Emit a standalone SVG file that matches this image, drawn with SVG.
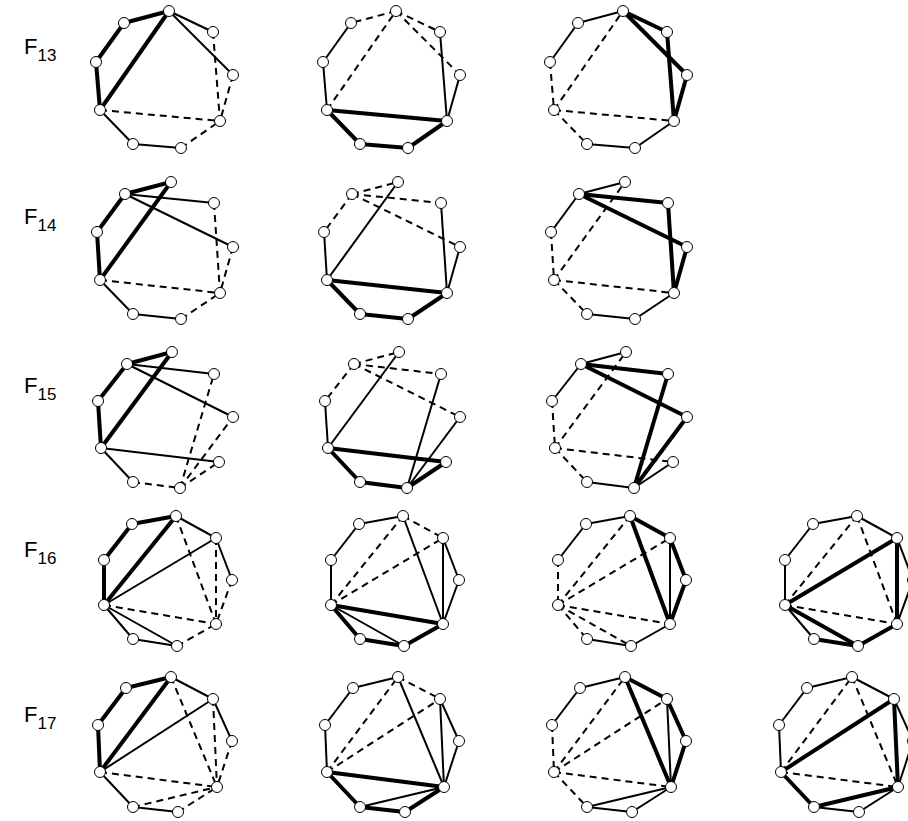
<svg xmlns="http://www.w3.org/2000/svg" width="908" height="821" viewBox="0 0 908 821">
<style>
line{stroke:#000;stroke-linecap:butt}
.t{stroke-width:4}
.s{stroke-width:2}
.d{stroke-width:2;stroke-dasharray:7 5}
circle{fill:#fff;stroke:#000;stroke-width:1}
text{font-family:"Liberation Sans",Arial,sans-serif;fill:#000}
.lbl{font-size:22px}
.sub{font-size:17px}
</style>
<rect width="908" height="821" fill="#fff"/>
<g id="labels">
<text class="lbl" x="24" y="54">F<tspan class="sub" dy="7">13</tspan></text>
<text class="lbl" x="24" y="224">F<tspan class="sub" dy="7">14</tspan></text>
<text class="lbl" x="24" y="393">F<tspan class="sub" dy="7">15</tspan></text>
<text class="lbl" x="24" y="557">F<tspan class="sub" dy="7">16</tspan></text>
<text class="lbl" x="24" y="722">F<tspan class="sub" dy="7">17</tspan></text>
</g>

<!-- ROW 1 -->
<g id="r1c1">
<g id="r1c1-connectors">
<line class="t" x1="169" y1="11" x2="124" y2="23"/>
<line class="t" x1="124" y1="23" x2="96" y2="62"/>
<line class="t" x1="96" y1="62" x2="100" y2="110"/>
<line class="t" x1="100" y1="110" x2="169" y2="11"/>
<line class="s" x1="169" y1="11" x2="213" y2="32"/>
<line class="s" x1="169" y1="11" x2="233" y2="75"/>
<line class="d" x1="213" y1="32" x2="220" y2="121"/>
<line class="d" x1="233" y1="75" x2="220" y2="121"/>
<line class="d" x1="100" y1="110" x2="220" y2="121"/>
<line class="s" x1="100" y1="110" x2="133" y2="144"/>
<line class="s" x1="133" y1="144" x2="181" y2="148"/>
<line class="d" x1="181" y1="148" x2="220" y2="121"/>
</g>
<g id="r1c1-A"><circle cx="169" cy="11" r="5.5"/></g>
<g id="r1c1-B"><circle cx="124" cy="23" r="5.5"/></g>
<g id="r1c1-C"><circle cx="96" cy="62" r="5.5"/></g>
<g id="r1c1-D"><circle cx="100" cy="110" r="5.5"/></g>
<g id="r1c1-E"><circle cx="133" cy="144" r="5.5"/></g>
<g id="r1c1-F"><circle cx="181" cy="148" r="5.5"/></g>
<g id="r1c1-G"><circle cx="220" cy="121" r="5.5"/></g>
<g id="r1c1-H"><circle cx="233" cy="75" r="5.5"/></g>
<g id="r1c1-I"><circle cx="213" cy="32" r="5.5"/></g>
</g>

<g id="r1c2" transform="translate(227,0)">
<g id="r1c2-connectors">
<line class="d" x1="169" y1="11" x2="124" y2="23"/>
<line class="s" x1="124" y1="23" x2="96" y2="62"/>
<line class="s" x1="96" y1="62" x2="100" y2="110"/>
<line class="d" x1="100" y1="110" x2="169" y2="11"/>
<line class="d" x1="169" y1="11" x2="213" y2="32"/>
<line class="d" x1="169" y1="11" x2="233" y2="75"/>
<line class="s" x1="213" y1="32" x2="220" y2="121"/>
<line class="s" x1="233" y1="75" x2="220" y2="121"/>
<line class="t" x1="100" y1="110" x2="220" y2="121"/>
<line class="t" x1="100" y1="110" x2="133" y2="144"/>
<line class="t" x1="133" y1="144" x2="181" y2="148"/>
<line class="t" x1="181" y1="148" x2="220" y2="121"/>
</g>
<g id="r1c2-A"><circle cx="169" cy="11" r="5.5"/></g>
<g id="r1c2-B"><circle cx="124" cy="23" r="5.5"/></g>
<g id="r1c2-C"><circle cx="96" cy="62" r="5.5"/></g>
<g id="r1c2-D"><circle cx="100" cy="110" r="5.5"/></g>
<g id="r1c2-E"><circle cx="133" cy="144" r="5.5"/></g>
<g id="r1c2-F"><circle cx="181" cy="148" r="5.5"/></g>
<g id="r1c2-G"><circle cx="220" cy="121" r="5.5"/></g>
<g id="r1c2-H"><circle cx="233" cy="75" r="5.5"/></g>
<g id="r1c2-I"><circle cx="213" cy="32" r="5.5"/></g>
</g>

<g id="r1c3" transform="translate(454,0)">
<g id="r1c3-connectors">
<line class="s" x1="169" y1="11" x2="124" y2="23"/>
<line class="s" x1="124" y1="23" x2="96" y2="62"/>
<line class="d" x1="96" y1="62" x2="100" y2="110"/>
<line class="d" x1="100" y1="110" x2="169" y2="11"/>
<line class="t" x1="169" y1="11" x2="213" y2="32"/>
<line class="t" x1="169" y1="11" x2="233" y2="75"/>
<line class="t" x1="213" y1="32" x2="220" y2="121"/>
<line class="t" x1="233" y1="75" x2="220" y2="121"/>
<line class="d" x1="100" y1="110" x2="220" y2="121"/>
<line class="d" x1="100" y1="110" x2="133" y2="144"/>
<line class="s" x1="133" y1="144" x2="181" y2="148"/>
<line class="s" x1="181" y1="148" x2="220" y2="121"/>
</g>
<g id="r1c3-A"><circle cx="169" cy="11" r="5.5"/></g>
<g id="r1c3-B"><circle cx="124" cy="23" r="5.5"/></g>
<g id="r1c3-C"><circle cx="96" cy="62" r="5.5"/></g>
<g id="r1c3-D"><circle cx="100" cy="110" r="5.5"/></g>
<g id="r1c3-E"><circle cx="133" cy="144" r="5.5"/></g>
<g id="r1c3-F"><circle cx="181" cy="148" r="5.5"/></g>
<g id="r1c3-G"><circle cx="220" cy="121" r="5.5"/></g>
<g id="r1c3-H"><circle cx="233" cy="75" r="5.5"/></g>
<g id="r1c3-I"><circle cx="213" cy="32" r="5.5"/></g>
</g>

<!-- ROW 2 -->
<g id="r2c1">
<g id="r2c1-connectors">
<line class="t" x1="125" y1="194" x2="171" y2="182"/>
<line class="t" x1="125" y1="194" x2="97" y2="232"/>
<line class="t" x1="97" y1="232" x2="100" y2="280"/>
<line class="t" x1="100" y1="280" x2="171" y2="182"/>
<line class="s" x1="125" y1="194" x2="214" y2="203"/>
<line class="s" x1="125" y1="194" x2="233" y2="247"/>
<line class="d" x1="214" y1="203" x2="220" y2="293"/>
<line class="d" x1="233" y1="247" x2="220" y2="293"/>
<line class="d" x1="100" y1="280" x2="220" y2="293"/>
<line class="s" x1="100" y1="280" x2="133" y2="314"/>
<line class="s" x1="133" y1="314" x2="181" y2="319"/>
<line class="d" x1="181" y1="319" x2="220" y2="293"/>
</g>
<g id="r2c1-A"><circle cx="171" cy="182" r="5.5"/></g>
<g id="r2c1-B"><circle cx="125" cy="194" r="5.5"/></g>
<g id="r2c1-C"><circle cx="97" cy="232" r="5.5"/></g>
<g id="r2c1-D"><circle cx="100" cy="280" r="5.5"/></g>
<g id="r2c1-E"><circle cx="133" cy="314" r="5.5"/></g>
<g id="r2c1-F"><circle cx="181" cy="319" r="5.5"/></g>
<g id="r2c1-G"><circle cx="220" cy="293" r="5.5"/></g>
<g id="r2c1-H"><circle cx="233" cy="247" r="5.5"/></g>
<g id="r2c1-I"><circle cx="214" cy="203" r="5.5"/></g>
</g>

<g id="r2c2" transform="translate(227,0)">
<g id="r2c2-connectors">
<line class="d" x1="125" y1="194" x2="171" y2="182"/>
<line class="d" x1="125" y1="194" x2="97" y2="232"/>
<line class="s" x1="97" y1="232" x2="100" y2="280"/>
<line class="s" x1="100" y1="280" x2="171" y2="182"/>
<line class="d" x1="125" y1="194" x2="214" y2="203"/>
<line class="d" x1="125" y1="194" x2="233" y2="247"/>
<line class="s" x1="214" y1="203" x2="220" y2="293"/>
<line class="s" x1="233" y1="247" x2="220" y2="293"/>
<line class="t" x1="100" y1="280" x2="220" y2="293"/>
<line class="t" x1="100" y1="280" x2="133" y2="314"/>
<line class="t" x1="133" y1="314" x2="181" y2="319"/>
<line class="t" x1="181" y1="319" x2="220" y2="293"/>
</g>
<g id="r2c2-A"><circle cx="171" cy="182" r="5.5"/></g>
<g id="r2c2-B"><circle cx="125" cy="194" r="5.5"/></g>
<g id="r2c2-C"><circle cx="97" cy="232" r="5.5"/></g>
<g id="r2c2-D"><circle cx="100" cy="280" r="5.5"/></g>
<g id="r2c2-E"><circle cx="133" cy="314" r="5.5"/></g>
<g id="r2c2-F"><circle cx="181" cy="319" r="5.5"/></g>
<g id="r2c2-G"><circle cx="220" cy="293" r="5.5"/></g>
<g id="r2c2-H"><circle cx="233" cy="247" r="5.5"/></g>
<g id="r2c2-I"><circle cx="214" cy="203" r="5.5"/></g>
</g>

<g id="r2c3" transform="translate(454,0)">
<g id="r2c3-connectors">
<line class="s" x1="125" y1="194" x2="171" y2="182"/>
<line class="s" x1="125" y1="194" x2="97" y2="232"/>
<line class="d" x1="97" y1="232" x2="100" y2="280"/>
<line class="d" x1="100" y1="280" x2="171" y2="182"/>
<line class="t" x1="125" y1="194" x2="214" y2="203"/>
<line class="t" x1="125" y1="194" x2="233" y2="247"/>
<line class="t" x1="214" y1="203" x2="220" y2="293"/>
<line class="t" x1="233" y1="247" x2="220" y2="293"/>
<line class="d" x1="100" y1="280" x2="220" y2="293"/>
<line class="d" x1="100" y1="280" x2="133" y2="314"/>
<line class="s" x1="133" y1="314" x2="181" y2="319"/>
<line class="s" x1="181" y1="319" x2="220" y2="293"/>
</g>
<g id="r2c3-A"><circle cx="171" cy="182" r="5.5"/></g>
<g id="r2c3-B"><circle cx="125" cy="194" r="5.5"/></g>
<g id="r2c3-C"><circle cx="97" cy="232" r="5.5"/></g>
<g id="r2c3-D"><circle cx="100" cy="280" r="5.5"/></g>
<g id="r2c3-E"><circle cx="133" cy="314" r="5.5"/></g>
<g id="r2c3-F"><circle cx="181" cy="319" r="5.5"/></g>
<g id="r2c3-G"><circle cx="220" cy="293" r="5.5"/></g>
<g id="r2c3-H"><circle cx="233" cy="247" r="5.5"/></g>
<g id="r2c3-I"><circle cx="214" cy="203" r="5.5"/></g>
</g>

<!-- ROW 3 -->
<g id="r3c1">
<g id="r3c1-connectors">
<line class="t" x1="127" y1="364" x2="172" y2="352"/>
<line class="t" x1="127" y1="364" x2="98" y2="401"/>
<line class="t" x1="98" y1="401" x2="101" y2="448"/>
<line class="t" x1="101" y1="448" x2="172" y2="352"/>
<line class="s" x1="127" y1="364" x2="214" y2="374"/>
<line class="s" x1="127" y1="364" x2="233" y2="417"/>
<line class="s" x1="101" y1="448" x2="219" y2="462"/>
<line class="s" x1="101" y1="448" x2="133" y2="482"/>
<line class="d" x1="133" y1="482" x2="180" y2="488"/>
<line class="d" x1="180" y1="488" x2="214" y2="374"/>
<line class="d" x1="180" y1="488" x2="233" y2="417"/>
<line class="d" x1="180" y1="488" x2="219" y2="462"/>
</g>
<g id="r3c1-A"><circle cx="172" cy="352" r="5.5"/></g>
<g id="r3c1-B"><circle cx="127" cy="364" r="5.5"/></g>
<g id="r3c1-C"><circle cx="98" cy="401" r="5.5"/></g>
<g id="r3c1-D"><circle cx="101" cy="448" r="5.5"/></g>
<g id="r3c1-E"><circle cx="133" cy="482" r="5.5"/></g>
<g id="r3c1-F"><circle cx="180" cy="488" r="5.5"/></g>
<g id="r3c1-G"><circle cx="219" cy="462" r="5.5"/></g>
<g id="r3c1-H"><circle cx="233" cy="417" r="5.5"/></g>
<g id="r3c1-I"><circle cx="214" cy="374" r="5.5"/></g>
</g>

<g id="r3c2" transform="translate(227,0)">
<g id="r3c2-connectors">
<line class="d" x1="127" y1="364" x2="172" y2="352"/>
<line class="d" x1="127" y1="364" x2="98" y2="401"/>
<line class="s" x1="98" y1="401" x2="101" y2="448"/>
<line class="s" x1="101" y1="448" x2="172" y2="352"/>
<line class="d" x1="127" y1="364" x2="214" y2="374"/>
<line class="d" x1="127" y1="364" x2="233" y2="417"/>
<line class="t" x1="101" y1="448" x2="219" y2="462"/>
<line class="t" x1="101" y1="448" x2="133" y2="482"/>
<line class="t" x1="133" y1="482" x2="180" y2="488"/>
<line class="t" x1="180" y1="488" x2="219" y2="462"/>
<line class="s" x1="180" y1="488" x2="214" y2="374"/>
<line class="s" x1="180" y1="488" x2="233" y2="417"/>
</g>
<g id="r3c2-A"><circle cx="172" cy="352" r="5.5"/></g>
<g id="r3c2-B"><circle cx="127" cy="364" r="5.5"/></g>
<g id="r3c2-C"><circle cx="98" cy="401" r="5.5"/></g>
<g id="r3c2-D"><circle cx="101" cy="448" r="5.5"/></g>
<g id="r3c2-E"><circle cx="133" cy="482" r="5.5"/></g>
<g id="r3c2-F"><circle cx="180" cy="488" r="5.5"/></g>
<g id="r3c2-G"><circle cx="219" cy="462" r="5.5"/></g>
<g id="r3c2-H"><circle cx="233" cy="417" r="5.5"/></g>
<g id="r3c2-I"><circle cx="214" cy="374" r="5.5"/></g>
</g>

<g id="r3c3" transform="translate(454,0)">
<g id="r3c3-connectors">
<line class="s" x1="127" y1="364" x2="172" y2="352"/>
<line class="s" x1="127" y1="364" x2="98" y2="401"/>
<line class="d" x1="98" y1="401" x2="101" y2="448"/>
<line class="d" x1="101" y1="448" x2="172" y2="352"/>
<line class="t" x1="127" y1="364" x2="214" y2="374"/>
<line class="t" x1="127" y1="364" x2="233" y2="417"/>
<line class="t" x1="180" y1="488" x2="214" y2="374"/>
<line class="t" x1="180" y1="488" x2="233" y2="417"/>
<line class="d" x1="101" y1="448" x2="219" y2="462"/>
<line class="d" x1="101" y1="448" x2="133" y2="482"/>
<line class="s" x1="133" y1="482" x2="180" y2="488"/>
<line class="s" x1="180" y1="488" x2="219" y2="462"/>
</g>
<g id="r3c3-A"><circle cx="172" cy="352" r="5.5"/></g>
<g id="r3c3-B"><circle cx="127" cy="364" r="5.5"/></g>
<g id="r3c3-C"><circle cx="98" cy="401" r="5.5"/></g>
<g id="r3c3-D"><circle cx="101" cy="448" r="5.5"/></g>
<g id="r3c3-E"><circle cx="133" cy="482" r="5.5"/></g>
<g id="r3c3-F"><circle cx="180" cy="488" r="5.5"/></g>
<g id="r3c3-G"><circle cx="219" cy="462" r="5.5"/></g>
<g id="r3c3-H"><circle cx="233" cy="417" r="5.5"/></g>
<g id="r3c3-I"><circle cx="214" cy="374" r="5.5"/></g>
</g>

<!-- ROW 4 -->
<g id="r4c1">
<g id="r4c1-connectors">
<line class="t" x1="176" y1="516" x2="132" y2="524"/>
<line class="t" x1="132" y1="524" x2="104" y2="560"/>
<line class="t" x1="104" y1="560" x2="104" y2="605"/>
<line class="t" x1="104" y1="605" x2="176" y2="516"/>
<line class="s" x1="104" y1="605" x2="216" y2="538"/>
<line class="s" x1="176" y1="516" x2="216" y2="538"/>
<line class="s" x1="216" y1="538" x2="232" y2="580"/>
<line class="d" x1="176" y1="516" x2="216" y2="624"/>
<line class="d" x1="216" y1="538" x2="216" y2="624"/>
<line class="d" x1="232" y1="580" x2="216" y2="624"/>
<line class="d" x1="104" y1="605" x2="216" y2="624"/>
<line class="s" x1="104" y1="605" x2="177" y2="646"/>
<line class="s" x1="104" y1="605" x2="133" y2="639"/>
<line class="s" x1="133" y1="639" x2="177" y2="646"/>
<line class="d" x1="177" y1="646" x2="216" y2="624"/>
</g>
<g id="r4c1-A"><circle cx="176" cy="516" r="5.5"/></g>
<g id="r4c1-B"><circle cx="132" cy="524" r="5.5"/></g>
<g id="r4c1-C"><circle cx="104" cy="560" r="5.5"/></g>
<g id="r4c1-D"><circle cx="104" cy="605" r="5.5"/></g>
<g id="r4c1-E"><circle cx="133" cy="639" r="5.5"/></g>
<g id="r4c1-F"><circle cx="177" cy="646" r="5.5"/></g>
<g id="r4c1-G"><circle cx="216" cy="624" r="5.5"/></g>
<g id="r4c1-H"><circle cx="232" cy="580" r="5.5"/></g>
<g id="r4c1-I"><circle cx="216" cy="538" r="5.5"/></g>
</g>

<g id="r4c2" transform="translate(227,0)">
<g id="r4c2-connectors">
<line class="s" x1="176" y1="516" x2="132" y2="524"/>
<line class="s" x1="132" y1="524" x2="104" y2="560"/>
<line class="s" x1="104" y1="560" x2="104" y2="605"/>
<line class="d" x1="104" y1="605" x2="176" y2="516"/>
<line class="d" x1="104" y1="605" x2="216" y2="538"/>
<line class="d" x1="176" y1="516" x2="216" y2="538"/>
<line class="s" x1="216" y1="538" x2="232" y2="580"/>
<line class="s" x1="176" y1="516" x2="216" y2="624"/>
<line class="s" x1="216" y1="538" x2="216" y2="624"/>
<line class="s" x1="232" y1="580" x2="216" y2="624"/>
<line class="t" x1="104" y1="605" x2="216" y2="624"/>
<line class="s" x1="104" y1="605" x2="177" y2="646"/>
<line class="t" x1="104" y1="605" x2="133" y2="639"/>
<line class="t" x1="133" y1="639" x2="177" y2="646"/>
<line class="t" x1="177" y1="646" x2="216" y2="624"/>
</g>
<g id="r4c2-A"><circle cx="176" cy="516" r="5.5"/></g>
<g id="r4c2-B"><circle cx="132" cy="524" r="5.5"/></g>
<g id="r4c2-C"><circle cx="104" cy="560" r="5.5"/></g>
<g id="r4c2-D"><circle cx="104" cy="605" r="5.5"/></g>
<g id="r4c2-E"><circle cx="133" cy="639" r="5.5"/></g>
<g id="r4c2-F"><circle cx="177" cy="646" r="5.5"/></g>
<g id="r4c2-G"><circle cx="216" cy="624" r="5.5"/></g>
<g id="r4c2-H"><circle cx="232" cy="580" r="5.5"/></g>
<g id="r4c2-I"><circle cx="216" cy="538" r="5.5"/></g>
</g>

<g id="r4c3" transform="translate(454,0)">
<g id="r4c3-connectors">
<line class="s" x1="176" y1="516" x2="132" y2="524"/>
<line class="s" x1="132" y1="524" x2="104" y2="560"/>
<line class="d" x1="104" y1="560" x2="104" y2="605"/>
<line class="d" x1="104" y1="605" x2="176" y2="516"/>
<line class="d" x1="104" y1="605" x2="216" y2="538"/>
<line class="t" x1="176" y1="516" x2="216" y2="538"/>
<line class="t" x1="216" y1="538" x2="232" y2="580"/>
<line class="t" x1="176" y1="516" x2="216" y2="624"/>
<line class="s" x1="216" y1="538" x2="216" y2="624"/>
<line class="t" x1="232" y1="580" x2="216" y2="624"/>
<line class="d" x1="104" y1="605" x2="216" y2="624"/>
<line class="d" x1="104" y1="605" x2="177" y2="646"/>
<line class="d" x1="104" y1="605" x2="133" y2="639"/>
<line class="s" x1="133" y1="639" x2="177" y2="646"/>
<line class="s" x1="177" y1="646" x2="216" y2="624"/>
</g>
<g id="r4c3-A"><circle cx="176" cy="516" r="5.5"/></g>
<g id="r4c3-B"><circle cx="132" cy="524" r="5.5"/></g>
<g id="r4c3-C"><circle cx="104" cy="560" r="5.5"/></g>
<g id="r4c3-D"><circle cx="104" cy="605" r="5.5"/></g>
<g id="r4c3-E"><circle cx="133" cy="639" r="5.5"/></g>
<g id="r4c3-F"><circle cx="177" cy="646" r="5.5"/></g>
<g id="r4c3-G"><circle cx="216" cy="624" r="5.5"/></g>
<g id="r4c3-H"><circle cx="232" cy="580" r="5.5"/></g>
<g id="r4c3-I"><circle cx="216" cy="538" r="5.5"/></g>
</g>

<g id="r4c4" transform="translate(681,0)">
<g id="r4c4-connectors">
<line class="s" x1="176" y1="516" x2="132" y2="524"/>
<line class="s" x1="132" y1="524" x2="104" y2="560"/>
<line class="s" x1="104" y1="560" x2="104" y2="605"/>
<line class="d" x1="104" y1="605" x2="176" y2="516"/>
<line class="t" x1="104" y1="605" x2="216" y2="538"/>
<line class="s" x1="176" y1="516" x2="216" y2="538"/>
<line class="s" x1="216" y1="538" x2="232" y2="580"/>
<line class="d" x1="176" y1="516" x2="216" y2="624"/>
<line class="t" x1="216" y1="538" x2="216" y2="624"/>
<line class="s" x1="232" y1="580" x2="216" y2="624"/>
<line class="d" x1="104" y1="605" x2="216" y2="624"/>
<line class="t" x1="104" y1="605" x2="177" y2="646"/>
<line class="s" x1="104" y1="605" x2="133" y2="639"/>
<line class="t" x1="133" y1="639" x2="177" y2="646"/>
<line class="t" x1="177" y1="646" x2="216" y2="624"/>
</g>
<g id="r4c4-A"><circle cx="176" cy="516" r="5.5"/></g>
<g id="r4c4-B"><circle cx="132" cy="524" r="5.5"/></g>
<g id="r4c4-C"><circle cx="104" cy="560" r="5.5"/></g>
<g id="r4c4-D"><circle cx="104" cy="605" r="5.5"/></g>
<g id="r4c4-E"><circle cx="133" cy="639" r="5.5"/></g>
<g id="r4c4-F"><circle cx="177" cy="646" r="5.5"/></g>
<g id="r4c4-G"><circle cx="216" cy="624" r="5.5"/></g>
<g id="r4c4-H"><circle cx="232" cy="580" r="5.5"/></g>
<g id="r4c4-I"><circle cx="216" cy="538" r="5.5"/></g>
</g>

<!-- ROW 5 -->
<g id="r5c1">
<g id="r5c1-connectors">
<line class="t" x1="171" y1="677" x2="126" y2="688"/>
<line class="t" x1="126" y1="688" x2="98" y2="725"/>
<line class="t" x1="98" y1="725" x2="100" y2="772"/>
<line class="t" x1="100" y1="772" x2="171" y2="677"/>
<line class="s" x1="100" y1="772" x2="213" y2="699"/>
<line class="s" x1="171" y1="677" x2="213" y2="699"/>
<line class="s" x1="213" y1="699" x2="232" y2="741"/>
<line class="d" x1="171" y1="677" x2="217" y2="787"/>
<line class="d" x1="213" y1="699" x2="217" y2="787"/>
<line class="d" x1="232" y1="741" x2="217" y2="787"/>
<line class="d" x1="100" y1="772" x2="217" y2="787"/>
<line class="d" x1="133" y1="807" x2="217" y2="787"/>
<line class="s" x1="100" y1="772" x2="133" y2="807"/>
<line class="s" x1="133" y1="807" x2="178" y2="812"/>
<line class="d" x1="178" y1="812" x2="217" y2="787"/>
</g>
<g id="r5c1-A"><circle cx="171" cy="677" r="5.5"/></g>
<g id="r5c1-B"><circle cx="126" cy="688" r="5.5"/></g>
<g id="r5c1-C"><circle cx="98" cy="725" r="5.5"/></g>
<g id="r5c1-D"><circle cx="100" cy="772" r="5.5"/></g>
<g id="r5c1-E"><circle cx="133" cy="807" r="5.5"/></g>
<g id="r5c1-F"><circle cx="178" cy="812" r="5.5"/></g>
<g id="r5c1-G"><circle cx="217" cy="787" r="5.5"/></g>
<g id="r5c1-H"><circle cx="232" cy="741" r="5.5"/></g>
<g id="r5c1-I"><circle cx="213" cy="699" r="5.5"/></g>
</g>

<g id="r5c2" transform="translate(227,0)">
<g id="r5c2-connectors">
<line class="s" x1="171" y1="677" x2="126" y2="688"/>
<line class="s" x1="126" y1="688" x2="98" y2="725"/>
<line class="s" x1="98" y1="725" x2="100" y2="772"/>
<line class="d" x1="100" y1="772" x2="171" y2="677"/>
<line class="d" x1="100" y1="772" x2="213" y2="699"/>
<line class="d" x1="171" y1="677" x2="213" y2="699"/>
<line class="s" x1="213" y1="699" x2="232" y2="741"/>
<line class="s" x1="171" y1="677" x2="217" y2="787"/>
<line class="s" x1="213" y1="699" x2="217" y2="787"/>
<line class="s" x1="232" y1="741" x2="217" y2="787"/>
<line class="t" x1="100" y1="772" x2="217" y2="787"/>
<line class="s" x1="133" y1="807" x2="217" y2="787"/>
<line class="t" x1="100" y1="772" x2="133" y2="807"/>
<line class="t" x1="133" y1="807" x2="178" y2="812"/>
<line class="t" x1="178" y1="812" x2="217" y2="787"/>
</g>
<g id="r5c2-A"><circle cx="171" cy="677" r="5.5"/></g>
<g id="r5c2-B"><circle cx="126" cy="688" r="5.5"/></g>
<g id="r5c2-C"><circle cx="98" cy="725" r="5.5"/></g>
<g id="r5c2-D"><circle cx="100" cy="772" r="5.5"/></g>
<g id="r5c2-E"><circle cx="133" cy="807" r="5.5"/></g>
<g id="r5c2-F"><circle cx="178" cy="812" r="5.5"/></g>
<g id="r5c2-G"><circle cx="217" cy="787" r="5.5"/></g>
<g id="r5c2-H"><circle cx="232" cy="741" r="5.5"/></g>
<g id="r5c2-I"><circle cx="213" cy="699" r="5.5"/></g>
</g>

<g id="r5c3" transform="translate(454,0)">
<g id="r5c3-connectors">
<line class="s" x1="171" y1="677" x2="126" y2="688"/>
<line class="s" x1="126" y1="688" x2="98" y2="725"/>
<line class="d" x1="98" y1="725" x2="100" y2="772"/>
<line class="d" x1="100" y1="772" x2="171" y2="677"/>
<line class="d" x1="100" y1="772" x2="213" y2="699"/>
<line class="t" x1="171" y1="677" x2="213" y2="699"/>
<line class="t" x1="213" y1="699" x2="232" y2="741"/>
<line class="t" x1="171" y1="677" x2="217" y2="787"/>
<line class="s" x1="213" y1="699" x2="217" y2="787"/>
<line class="t" x1="232" y1="741" x2="217" y2="787"/>
<line class="d" x1="100" y1="772" x2="217" y2="787"/>
<line class="s" x1="133" y1="807" x2="217" y2="787"/>
<line class="d" x1="100" y1="772" x2="133" y2="807"/>
<line class="s" x1="133" y1="807" x2="178" y2="812"/>
<line class="s" x1="178" y1="812" x2="217" y2="787"/>
</g>
<g id="r5c3-A"><circle cx="171" cy="677" r="5.5"/></g>
<g id="r5c3-B"><circle cx="126" cy="688" r="5.5"/></g>
<g id="r5c3-C"><circle cx="98" cy="725" r="5.5"/></g>
<g id="r5c3-D"><circle cx="100" cy="772" r="5.5"/></g>
<g id="r5c3-E"><circle cx="133" cy="807" r="5.5"/></g>
<g id="r5c3-F"><circle cx="178" cy="812" r="5.5"/></g>
<g id="r5c3-G"><circle cx="217" cy="787" r="5.5"/></g>
<g id="r5c3-H"><circle cx="232" cy="741" r="5.5"/></g>
<g id="r5c3-I"><circle cx="213" cy="699" r="5.5"/></g>
</g>

<g id="r5c4" transform="translate(681,0)">
<g id="r5c4-connectors">
<line class="s" x1="171" y1="677" x2="126" y2="688"/>
<line class="s" x1="126" y1="688" x2="98" y2="725"/>
<line class="s" x1="98" y1="725" x2="100" y2="772"/>
<line class="d" x1="100" y1="772" x2="171" y2="677"/>
<line class="t" x1="100" y1="772" x2="213" y2="699"/>
<line class="s" x1="171" y1="677" x2="213" y2="699"/>
<line class="s" x1="213" y1="699" x2="232" y2="741"/>
<line class="d" x1="171" y1="677" x2="217" y2="787"/>
<line class="t" x1="213" y1="699" x2="217" y2="787"/>
<line class="s" x1="232" y1="741" x2="217" y2="787"/>
<line class="d" x1="100" y1="772" x2="217" y2="787"/>
<line class="t" x1="133" y1="807" x2="217" y2="787"/>
<line class="t" x1="100" y1="772" x2="133" y2="807"/>
<line class="s" x1="133" y1="807" x2="178" y2="812"/>
<line class="s" x1="178" y1="812" x2="217" y2="787"/>
</g>
<g id="r5c4-A"><circle cx="171" cy="677" r="5.5"/></g>
<g id="r5c4-B"><circle cx="126" cy="688" r="5.5"/></g>
<g id="r5c4-C"><circle cx="98" cy="725" r="5.5"/></g>
<g id="r5c4-D"><circle cx="100" cy="772" r="5.5"/></g>
<g id="r5c4-E"><circle cx="133" cy="807" r="5.5"/></g>
<g id="r5c4-F"><circle cx="178" cy="812" r="5.5"/></g>
<g id="r5c4-G"><circle cx="217" cy="787" r="5.5"/></g>
<g id="r5c4-H"><circle cx="232" cy="741" r="5.5"/></g>
<g id="r5c4-I"><circle cx="213" cy="699" r="5.5"/></g>
</g>
</svg>
